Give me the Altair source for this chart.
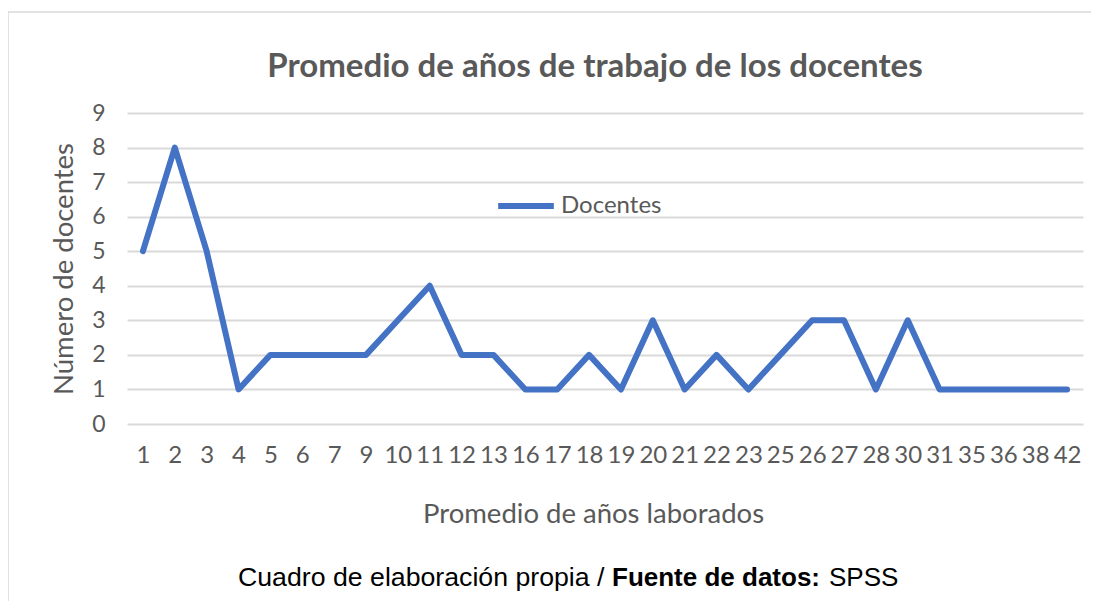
import altair as alt
import pandas as pd

anios = ["1", "2", "3", "4", "5", "6", "7", "9", "10", "11", "12", "13", "16", "17", "18",
         "19", "20", "21", "22", "23", "25", "26", "27", "28", "30", "31", "35", "36", "38", "42"]
docentes = [5, 8, 5, 1, 2, 2, 2, 2, 3, 4, 2, 2, 1, 1, 2,
            1, 3, 1, 2, 1, 2, 3, 3, 1, 3, 1, 1, 1, 1, 1]
serie = "Docentes"
titulo = "Promedio de años de trabajo de los docentes"

df = pd.DataFrame({"anio": anios, "n": docentes, "serie": [serie] * len(anios)})

W, H = 956, 311
GREY = "#595959"
FONT = "Lato"

line = alt.Chart(df).mark_line(strokeWidth=6, strokeJoin="round", strokeCap="round").encode(
    x=alt.X("anio:N", sort=anios, scale=alt.Scale(padding=0.5),
            axis=alt.Axis(title="Promedio de años laborados", labelAngle=0, labelFontSize=24,
                          labelColor=GREY, labelFont=FONT, labelPadding=19, ticks=False, domain=False,
                          grid=False, titleFontSize=27.5, titleFont=FONT, titleColor=GREY,
                          titleFontWeight="normal", titlePadding=33, titleX=466,
                          titleAlign="center", titleAnchor="start")),
    y=alt.Y("n:Q", scale=alt.Scale(domain=[0, 9], nice=False),
            axis=alt.Axis(title="Número de docentes", values=list(range(10)), labelFontSize=23,
                          labelColor=GREY, labelFont=FONT, labelPadding=22, ticks=False, domain=False,
                          gridColor="#d9d9d9", gridWidth=2, titleFontSize=27.5, titleFont=FONT,
                          titleColor=GREY, titleFontWeight="normal", titlePadding=13)),
    color=alt.Color("serie:N", scale=alt.Scale(range=["#4472C4"]),
                    legend=alt.Legend(title=None, orient="none", legendX=368, legendY=62,
                                      symbolType="stroke", symbolSize=3100, symbolStrokeWidth=6,
                                      labelFontSize=24, labelFont=FONT, labelColor=GREY,
                                      labelOffset=4)),
)

title_df = pd.DataFrame({"t": [titulo]})
title = alt.Chart(title_df).mark_text(align="center", baseline="middle", fontSize=33, font=FONT,
                                      fontWeight="bold", color=GREY).encode(
    x=alt.value(468), y=alt.value(-46), text="t:N")

cap1 = pd.DataFrame({"t": ["Cuadro de elaboración propia /"], "px": [111]})
cap2 = pd.DataFrame({"t": ["Fuente de datos:"], "px": [485]})
cap3 = pd.DataFrame({"t": ["SPSS"], "px": [702]})

caption1 = alt.Chart(cap1).mark_text(align="left", baseline="alphabetic", fontSize=26.7,
                                     font="Liberation Sans", color="#000000").encode(
    x=alt.X("px:Q", scale=None), y=alt.value(473), text="t:N")
caption2 = alt.Chart(cap2).mark_text(align="left", baseline="alphabetic", fontSize=26,
                                     font="Liberation Sans", fontWeight="bold", color="#000000").encode(
    x=alt.X("px:Q", scale=None), y=alt.value(473), text="t:N")
caption3 = alt.Chart(cap3).mark_text(align="left", baseline="alphabetic", fontSize=26,
                                     font="Liberation Sans", color="#000000").encode(
    x=alt.X("px:Q", scale=None), y=alt.value(473), text="t:N")

border = alt.Chart(pd.DataFrame({"a": [0]})).mark_rect(fill=None, stroke="#d9d9d9", strokeWidth=1.5).encode(
    x=alt.value(-119), x2=alt.value(W + 13), y=alt.value(-101), y2=alt.value(H + 190),
)

chart = alt.layer(border, line, title, caption1, caption2, caption3).properties(
    width=W, height=H,
    autosize=alt.AutoSizeParams(type="none"),
    padding={"left": 119, "top": 105, "right": 8, "bottom": 177},
    background="white",
).configure_view(stroke=None)

chart.save("out.html", embed_options={"renderer": "svg", "actions": False})
